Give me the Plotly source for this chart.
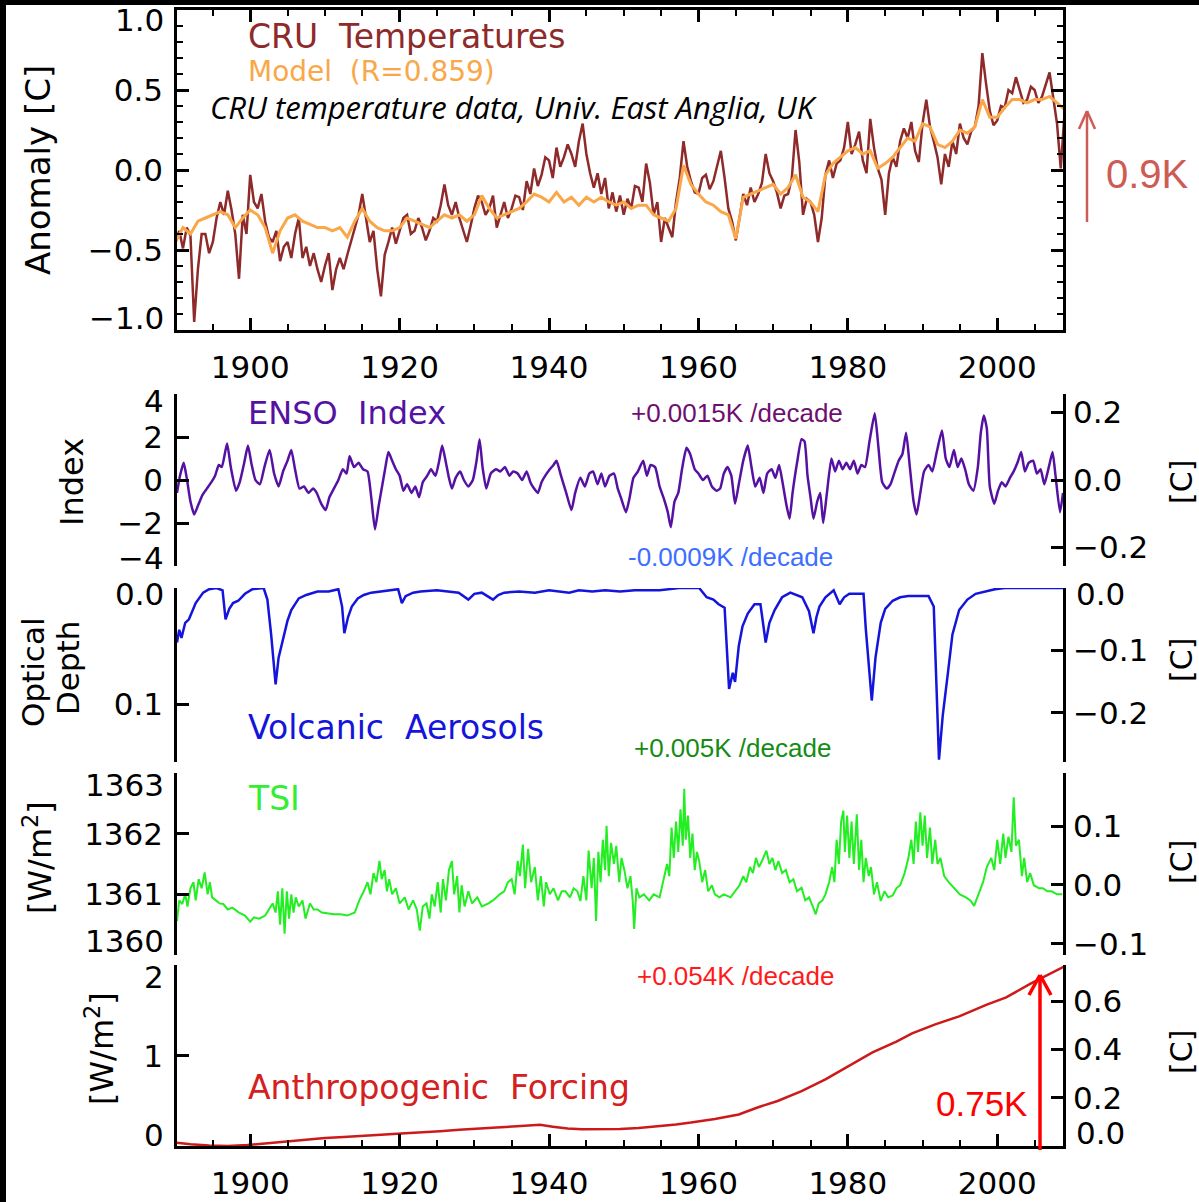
import plotly.graph_objects as go

W, H = 1199, 1202
def px(x): return x / W
def py(y): return 1 - y / H

# ---------------- data ----------------
cru_start = 1890.0
cru_vals = [
 -0.45,-0.38, -0.49,-0.36, -0.41,-0.95, -0.62,-0.40, -0.40,-0.52, -0.45,-0.30, -0.20,-0.28, -0.13,-0.25, -0.40,-0.68, -0.28,-0.40,
 -0.03,-0.20, -0.24,-0.15, -0.32,-0.42, -0.45,-0.38, -0.57,-0.48, -0.45,-0.55, -0.40,-0.30, -0.55,-0.48, -0.60,-0.52, -0.62,-0.70,
 -0.60,-0.52, -0.75,-0.62, -0.55,-0.62, -0.53,-0.45, -0.36,-0.28, -0.15,-0.30, -0.45,-0.38, -0.62,-0.79, -0.53,-0.45, -0.36,-0.46,
 -0.38,-0.30, -0.28,-0.40, -0.38,-0.30, -0.36,-0.44, -0.38,-0.30, -0.32,-0.22, -0.09,-0.22, -0.28,-0.20, -0.30,-0.38, -0.45,-0.35,
 -0.24,-0.16, -0.20,-0.28, -0.24,-0.16, -0.36,-0.28, -0.20,-0.30, -0.24,-0.16, -0.17,-0.25, -0.07,-0.15, 0.01,-0.10, -0.03,0.08,
 0.06,-0.05, 0.14,0.02, 0.08,0.16, 0.10,0.02, 0.18,0.29, 0.10,-0.02, -0.11,-0.02, -0.15,-0.05, -0.24,-0.14, -0.26,-0.16,
 -0.28,-0.18, -0.24,-0.10, -0.11,-0.20, 0.04,-0.08, -0.28,-0.20, -0.45,-0.30, -0.36,-0.42, -0.20,-0.05, 0.18,0.02, -0.07,-0.14,
 -0.15,-0.05, -0.03,-0.12, -0.07,0.02, 0.12,-0.05, -0.24,-0.32, -0.44,-0.30, -0.15,-0.22, -0.11,-0.20, -0.15,-0.08, 0.10,-0.02,
 -0.07,-0.14, -0.24,-0.16, -0.15,-0.05, 0.25,0.05, -0.28,-0.18, -0.20,-0.28, -0.45,-0.30, -0.03,0.06, -0.05,0.04, 0.06,0.14,
 0.30,0.10, 0.16,0.24, 0.06,-0.02, 0.32,0.14, 0.01,-0.06, -0.28,-0.02, 0.08,0.02, 0.18,0.26, 0.20,0.30, 0.12,0.05,
 0.29,0.44, 0.27,0.18, 0.08,-0.09, 0.10,0.02, 0.18,0.10, 0.29,0.20, 0.16,0.24, 0.27,0.40, 0.73,0.54, 0.37,0.28,
 0.31,0.40, 0.39,0.50, 0.48,0.58, 0.50,0.42, 0.44,0.52, 0.50,0.42, 0.46,0.54, 0.61,0.45, 0.29,0.01, 0.35,
]
cru_years = [cru_start + 0.5 * i for i in range(len(cru_vals))]

model_start = 1890
model_vals = [
 -0.45,-0.36,-0.40,-0.32,-0.30,-0.28,-0.26,-0.28,-0.36,-0.30,
 -0.25,-0.28,-0.36,-0.52,-0.38,-0.30,-0.28,-0.32,-0.34,-0.36,
 -0.36,-0.38,-0.36,-0.42,-0.32,-0.24,-0.32,-0.36,-0.38,-0.38,
 -0.36,-0.30,-0.32,-0.34,-0.36,-0.32,-0.28,-0.30,-0.28,-0.32,
 -0.28,-0.16,-0.24,-0.30,-0.28,-0.26,-0.24,-0.20,-0.15,-0.17,
 -0.20,-0.14,-0.20,-0.17,-0.22,-0.17,-0.20,-0.17,-0.20,-0.22,
 -0.20,-0.24,-0.22,-0.22,-0.28,-0.30,-0.32,-0.24,0.03,-0.09,
 -0.15,-0.20,-0.22,-0.26,-0.28,-0.43,-0.17,-0.15,-0.13,-0.11,
 -0.09,-0.15,-0.11,-0.03,-0.17,-0.20,-0.26,-0.03,0.04,0.08,
 0.12,0.14,0.10,0.12,0.01,0.04,0.08,0.14,0.20,0.18,
 0.29,0.27,0.16,0.14,0.18,0.25,0.23,0.27,0.44,0.33,
 0.33,0.39,0.44,0.44,0.42,0.44,0.44,0.46,0.42,0.38,
]
model_years = [model_start + i for i in range(len(model_vals))]

enso_years = [
 1890.2,1890.6,1891.1,1891.5,1892.0,1892.5,1893.0,1893.6,1894.2,1894.8,1895.3,1895.8,1896.2,1896.9,1897.4,1898.1,1898.6,1899.2,1899.7,
 1900.2,1900.7,1901.3,1901.9,1902.6,1903.2,1903.8,1904.4,1905.0,1905.5,1906.0,1906.6,1907.2,1907.8,1908.4,1908.9,1909.5,
 1910.1,1910.6,1911.2,1911.8,1912.4,1912.9,1913.3,1913.9,1914.5,1915.1,1915.7,1916.2,1916.7,1917.2,1917.7,1918.1,1918.5,1919.0,1919.5,
 1920.0,1920.5,1921.0,1921.6,1922.1,1922.6,1923.1,1923.7,1924.2,1924.8,1925.3,1925.7,1926.2,1926.6,1927.0,1927.5,1928.1,1928.6,1929.2,1929.8,
 1930.3,1930.7,1931.1,1931.6,1932.2,1932.9,1933.5,1934.1,1934.7,1935.2,1935.8,1936.4,1937.0,1937.5,1938.0,1938.5,1939.0,1939.5,
 1940.1,1940.6,1941.0,1941.6,1942.3,1943.0,1943.5,1944.2,1944.8,1945.4,1945.9,1946.5,1947.0,1947.5,1948.1,1948.7,1949.2,1949.6,
 1950.3,1950.8,1951.3,1951.9,1952.6,1953.1,1953.6,1954.2,1954.8,1955.4,1955.9,1956.3,1956.8,1957.3,1957.8,1958.4,1958.9,1959.5,
 1960.0,1960.6,1961.2,1961.8,1962.4,1962.9,1963.4,1963.9,1964.4,1964.9,1965.4,1966.0,1966.6,1967.1,1967.6,1968.2,1968.7,1969.2,1969.8,
 1970.3,1970.8,1971.3,1971.8,1972.2,1972.6,1973.2,1973.8,1974.2,1974.6,1975.0,1975.4,1975.9,1976.3,1976.7,1977.2,1977.8,1978.3,1978.8,1979.3,1979.8,
 1980.3,1980.8,1981.3,1981.8,1982.3,1982.9,1983.6,1984.1,1984.6,1985.2,1985.7,1986.2,1986.8,1987.3,1987.8,1988.3,1988.8,1989.2,1989.7,
 1990.2,1990.8,1991.3,1991.9,1992.6,1993.1,1993.6,1994.2,1994.7,1995.2,1995.7,1996.2,1996.8,1997.4,1997.8,1998.2,1998.6,1999.0,1999.6,
 2000.1,2000.6,2001.1,2001.7,2002.2,2002.7,2003.2,2003.7,2004.2,2004.8,2005.3,2005.8,2006.3,2006.9,2007.4,2007.8,2008.4,2008.8,
]
enso_vals = [
 -0.6,0.2,0.8,0.1,-1.0,-1.6,-1.2,-0.7,-0.4,-0.1,0.2,0.7,0.6,1.7,0.6,-0.5,-0.1,0.8,1.6,
 0.7,0.0,-0.2,0.6,1.4,0.3,-0.3,0.4,0.9,1.4,0.5,-0.4,-0.3,-0.6,-0.4,-0.6,-1.1,
 -1.4,-0.8,-0.4,0.0,0.5,0.3,1.1,0.6,0.8,0.5,0.4,-0.8,-2.3,-1.2,-0.2,0.6,1.3,0.9,0.5,
 0.2,-0.5,-0.2,-0.6,-0.3,-0.8,-0.1,0.2,0.5,0.2,0.9,1.6,0.8,0.1,-0.4,0.1,0.4,0.0,-0.3,0.0,
 0.9,1.9,0.6,-0.4,0.3,0.5,0.4,0.6,0.2,0.4,0.3,0.0,0.4,-0.1,-0.4,-0.6,-0.1,0.2,
 0.5,0.7,0.9,0.2,-0.6,-1.4,-0.6,0.1,-0.3,0.3,0.4,-0.2,0.3,-0.3,0.2,0.3,-0.4,-0.8,
 -1.5,-0.8,0.1,0.4,0.9,0.2,0.7,0.6,-0.3,-0.9,-1.5,-2.2,-1.0,-0.6,0.5,1.5,1.2,0.5,
 0.3,0.0,0.2,-0.3,-0.5,-0.4,0.3,0.6,0.2,-1.1,-0.2,0.9,1.6,0.6,-0.3,0.1,-0.6,0.3,0.5,
 0.1,0.7,-0.2,-1.2,-1.8,-0.6,0.8,1.9,1.8,0.2,-0.8,-1.8,-1.0,-0.6,-2.0,-0.6,1.0,0.4,0.9,0.5,0.8,
 0.5,0.9,0.3,0.7,0.6,1.8,3.1,1.5,-0.1,-0.4,-0.2,0.3,0.9,1.2,2.2,0.6,-1.0,-1.6,-0.6,
 0.4,0.7,0.4,1.3,2.3,1.0,0.6,1.4,0.6,1.0,0.5,-0.2,-0.5,0.6,2.2,3.0,2.4,-0.3,-1.1,
 -0.5,-0.1,-0.3,0.1,0.4,0.8,1.3,0.4,0.8,0.9,0.3,0.5,-0.2,0.6,1.3,0.2,-1.5,-0.6,
]

volc_years = [
 1890.2,1890.5,1890.8,1891.3,1891.8,1892.2,1892.7,1893.7,1894.5,1895.5,1896.3,1896.7,1897.2,1897.7,1898.4,1899.3,
 1900.3,1901.8,1902.3,1902.8,1903.4,1903.8,1904.4,1905.0,1905.5,1906.5,1907.5,1909.0,1910.5,1911.8,1912.3,1912.6,
 1913.1,1913.6,1914.4,1915.2,1916.2,1917.2,1918.5,1919.8,1920.3,1920.8,1921.8,1922.8,1925.0,1927.9,1929.2,1930.0,
 1931.0,1932.5,1933.2,1934.0,1936.0,1938.1,1940.0,1942.7,1944.0,1945.8,1947.5,1949.5,1951.5,1954.8,1957.4,1960.1,
 1961.1,1962.0,1962.7,1963.5,1964.1,1964.6,1964.9,1965.4,1965.9,1966.6,1967.5,1968.3,1969.0,1969.5,1970.2,1971.2,
 1972.3,1973.9,1974.8,1975.4,1975.8,1976.2,1977.0,1978.1,1978.9,1979.5,1980.2,1982.1,1982.4,1983.2,1983.7,1984.4,
 1985.0,1986.0,1987.0,1988.1,1990.8,1991.5,1992.2,1992.7,1993.4,1994.0,1994.9,1996.0,1997.1,1999.7,2001.0,2009.0,
]
volc_vals = [
 0.047,0.036,0.043,0.030,0.027,0.020,0.013,0.004,0.001,0.000,0.002,0.027,0.018,0.013,0.011,0.005,
 0.001,0.000,0.010,0.040,0.083,0.060,0.044,0.028,0.019,0.009,0.006,0.003,0.003,0.001,0.016,0.039,
 0.025,0.016,0.009,0.006,0.004,0.003,0.002,0.001,0.013,0.007,0.004,0.003,0.002,0.004,0.010,0.005,
 0.004,0.010,0.006,0.004,0.003,0.004,0.002,0.004,0.002,0.003,0.002,0.003,0.002,0.002,0.000,0.000,
 0.008,0.010,0.014,0.017,0.087,0.073,0.081,0.050,0.033,0.022,0.014,0.014,0.047,0.030,0.019,0.008,
 0.004,0.008,0.020,0.039,0.025,0.016,0.008,0.002,0.014,0.008,0.005,0.005,0.035,0.097,0.060,0.030,
 0.018,0.011,0.008,0.007,0.007,0.016,0.148,0.110,0.073,0.040,0.019,0.010,0.005,0.001,0.000,0.000,
]

tsi_years = [
 1890.2,1890.5,1890.9,1891.3,1891.6,1892.0,1892.4,1892.7,1893.1,1893.5,1893.9,1894.3,1894.6,1894.9,1895.4,1895.9,1896.4,1897.0,1897.6,1898.5,1899.3,
 1900.0,1900.5,1901.2,1902.0,1902.5,1903.0,1903.4,1903.7,1904.0,1904.3,1904.6,1904.9,1905.2,1905.5,1905.8,1906.1,1906.5,1907.0,1907.4,1908.0,1908.5,1909.0,1909.6,
 1910.4,1911.2,1912.1,1913.0,1914.0,1914.6,1915.2,1915.7,1916.1,1916.5,1916.9,1917.3,1917.6,1918.0,1918.3,1918.6,1919.0,1919.5,
 1920.0,1920.7,1921.2,1921.8,1922.3,1922.7,1923.1,1923.6,1924.0,1924.3,1924.7,1925.1,1925.5,1925.8,1926.2,1926.6,1927.0,1927.3,1927.7,1928.0,1928.3,1928.7,1929.2,1929.7,
 1930.4,1931.0,1931.9,1932.5,1933.4,1934.0,1934.5,1935.0,1935.4,1935.8,1936.1,1936.5,1936.8,1937.2,1937.6,1938.1,1938.5,1938.9,1939.3,1939.6,
 1940.1,1940.6,1941.2,1941.7,1942.2,1942.8,1943.3,1943.8,1944.2,1944.6,1945.0,1945.3,1945.7,1946.0,1946.3,1946.6,1946.9,1947.2,1947.5,1947.7,1948.0,1948.3,1948.7,1949.0,1949.4,1949.7,
 1950.1,1950.5,1950.9,1951.2,1951.4,1951.7,1952.1,1952.7,1953.4,1954.0,1954.8,1955.3,1955.8,1956.1,1956.4,1956.7,1957.0,1957.3,1957.6,1957.9,1958.1,1958.3,1958.6,1958.9,1959.2,1959.5,1959.8,
 1960.1,1960.5,1960.9,1961.3,1961.8,1962.2,1962.8,1963.4,1964.3,1964.9,1965.5,1966.0,1966.4,1966.9,1967.3,1967.7,1968.1,1968.5,1969.1,1969.5,1969.9,
 1970.3,1970.7,1971.2,1971.7,1972.2,1972.7,1973.2,1973.8,1974.3,1974.8,1975.3,1975.7,1976.1,1976.6,1977.0,1977.5,1977.9,1978.2,1978.5,1978.8,1979.1,1979.4,1979.6,1979.9,
 1980.2,1980.5,1980.8,1981.2,1981.5,1981.8,1982.1,1982.4,1982.8,1983.1,1983.5,1983.9,1984.4,1984.9,1985.4,1986.0,1986.5,1987.0,1987.6,1988.1,1988.5,1988.8,1989.1,1989.4,1989.7,
 1990.0,1990.3,1990.6,1991.0,1991.3,1991.7,1992.0,1992.4,1992.9,1993.5,1994.2,1995.0,1995.8,1996.4,1996.9,1997.5,1998.1,1998.6,1999.2,1999.6,
 2000.0,2000.4,2000.8,2001.1,2001.5,2001.9,2002.2,2002.5,2002.9,2003.3,2003.6,2004.0,2004.4,2004.9,2005.6,2006.1,2006.7,2007.3,2008.0,2008.7,
]
tsi_vals = [
 1360.56,1360.90,1360.84,1361.00,1360.80,1361.10,1361.20,1360.90,1361.25,1361.10,1361.36,1361.00,1361.20,1360.95,1360.90,1360.85,1360.84,1360.75,1360.78,1360.70,1360.65,
 1360.55,1360.62,1360.60,1360.65,1360.75,1360.85,1360.70,1361.05,1360.50,1361.10,1360.35,1361.05,1360.60,1361.00,1360.70,1360.95,1360.80,1360.90,1360.60,1360.85,1360.75,1360.75,1360.70,
 1360.68,1360.67,1360.67,1360.65,1360.70,1360.90,1361.05,1361.20,1361.00,1361.35,1361.20,1361.55,1361.25,1361.40,1361.05,1361.25,1361.00,1361.10,
 1360.85,1360.95,1360.75,1360.90,1360.75,1360.40,1360.80,1360.85,1360.60,1361.00,1360.80,1361.20,1360.70,1361.25,1360.90,1361.40,1361.55,1361.00,1361.30,1360.70,1361.15,1360.80,1361.05,1360.85,
 1360.95,1360.80,1360.85,1360.90,1361.00,1361.05,1361.20,1361.25,1361.00,1361.55,1361.30,1361.82,1361.10,1361.75,1361.20,1361.45,1360.90,1361.30,1360.80,1361.20,
 1361.00,1361.10,1360.90,1361.05,1361.05,1360.95,1361.10,1361.05,1360.89,1361.30,1360.90,1361.72,1361.10,1361.60,1360.56,1361.70,1361.20,1361.90,1361.40,1362.13,1361.30,1361.85,1361.50,1361.80,1361.20,1361.60,
 1361.39,1361.10,1361.30,1360.90,1360.43,1361.10,1360.95,1361.00,1360.90,1361.00,1360.95,1361.20,1361.50,1361.30,1362.10,1361.60,1362.20,1361.70,1362.40,1361.80,1362.74,1361.90,1362.30,1361.60,1362.00,1361.40,1361.70,
 1361.55,1361.20,1361.40,1361.05,1361.15,1361.00,1360.95,1361.00,1360.95,1361.05,1361.15,1361.30,1361.20,1361.45,1361.35,1361.60,1361.45,1361.55,1361.72,1361.50,1361.60,
 1361.40,1361.55,1361.35,1361.40,1361.20,1361.25,1361.05,1361.11,1360.90,1360.95,1360.80,1360.67,1360.85,1360.90,1361.00,1361.20,1361.45,1361.20,1361.90,1361.50,1362.20,1362.38,1361.70,1362.30,
 1361.60,1362.20,1361.50,1362.32,1361.40,1361.90,1361.20,1361.60,1361.30,1361.45,1361.00,1361.20,1360.89,1361.05,1360.95,1360.98,1361.10,1361.15,1361.35,1361.60,1361.90,1361.50,1362.20,1361.70,1362.35,
 1361.80,1362.30,1361.60,1362.10,1361.50,1361.90,1361.50,1361.60,1361.30,1361.20,1361.10,1361.00,1360.95,1360.90,1360.81,1361.00,1361.20,1361.45,1361.60,1361.40,
 1361.90,1361.50,1362.00,1361.60,1361.95,1361.70,1362.60,1361.80,1361.90,1361.30,1361.60,1361.20,1361.35,1361.15,1361.10,1361.10,1361.05,1361.05,1361.00,1361.00,
]

anthro_years = [
 1890.2,1892.0,1894.5,1897.0,1899.6,1902.0,1904.8,1907.5,1910.0,1912.5,1915.1,1917.5,1920.2,1922.8,1925.4,1928.0,1930.5,1933.0,1935.7,1938.8,
 1940.5,1942.5,1944.4,1947.0,1949.5,1952.0,1954.8,1957.0,1959.0,1962.2,1965.4,1968.0,1970.6,1973.8,1977.0,1980.2,1983.3,1986.5,1988.6,
 1991.7,1994.9,1998.6,2001.2,2004.4,2007.0,2008.9,
]
anthro_vals = [
 0.037,0.020,0.005,0.000,0.010,0.030,0.055,0.075,0.090,0.100,0.110,0.125,0.140,0.150,0.165,0.180,0.190,0.205,0.220,0.235,
 0.215,0.195,0.185,0.185,0.190,0.200,0.220,0.240,0.260,0.300,0.350,0.430,0.500,0.610,0.740,0.890,1.040,1.160,1.250,
 1.350,1.440,1.570,1.650,1.800,1.910,1.990,
]

# tick values / labels (end labels are drawn separately, nudged inward as in the original)
temp_ticks = [-1.0, -0.5, 0.0, 0.5, 1.0]
temp_text = ["", "\u22120.5", "0.0", "0.5", ""]
enso_ticks = [-4, -2, 0, 2, 4]
enso_text = ["", "\u22122", "0", "2", ""]
enso_c_ticks = [-0.2, 0.0, 0.2]
enso_c_text = ["\u22120.2", "0.0", "0.2"]
volc_ticks = [0.0, 0.1]
volc_text = ["", "0.1"]
volc_c_ticks = [-0.2, -0.1, 0.0]
volc_c_text = ["\u22120.2", "\u22120.1", ""]
tsi_ticks = [1360, 1361, 1362, 1363]
tsi_text = ["", "1361", "1362", ""]
tsi_c_ticks = [-0.1, 0.0, 0.1]
tsi_c_text = ["\u22120.1", "0.0", "0.1"]
anth_ticks = [0, 1, 2]
anth_text = ["", "1", ""]
anth_c_ticks = [0.0, 0.2, 0.4, 0.6]
anth_c_text = ["", "0.2", "0.4", "0.6"]

# ---------------- figure ----------------
FONT = "DejaVu Sans"
TF = dict(family=FONT, size=31, color="black")
XR = [1890.2, 2008.8]
XD = [px(177), px(1063)]

fig = go.Figure()
fig.add_trace(go.Scatter(x=cru_years, y=cru_vals, mode="lines", line=dict(color="#8e2a2a", width=2.5), xaxis="x", yaxis="y"))
fig.add_trace(go.Scatter(x=model_years, y=model_vals, mode="lines", line=dict(color="#f9a748", width=3), xaxis="x", yaxis="y"))
fig.add_trace(go.Scatter(x=enso_years, y=enso_vals, mode="lines", line=dict(color="#5512a2", width=2.5, shape="spline", smoothing=0.5), xaxis="x2", yaxis="y2"))
fig.add_trace(go.Scatter(x=volc_years, y=volc_vals, mode="lines", line=dict(color="#1414dc", width=2.5), xaxis="x3", yaxis="y3"))
fig.add_trace(go.Scatter(x=tsi_years, y=tsi_vals, mode="lines", line=dict(color="#22ee22", width=2), xaxis="x4", yaxis="y4"))
fig.add_trace(go.Scatter(x=anthro_years, y=anthro_vals, mode="lines", line=dict(color="#cc1a1a", width=2.5), xaxis="x5", yaxis="y5"))
for xa, ya in (("x2", "y6"), ("x3", "y7"), ("x4", "y8"), ("x5", "y9")):
    fig.add_trace(go.Scatter(x=[None], y=[None], xaxis=xa, yaxis=ya, hoverinfo="skip"))

ax_common = dict(showline=True, linecolor="black", linewidth=2.5, ticks="inside", tickcolor="black",
                 tickwidth=2.5, ticklen=12, showgrid=False, zeroline=False, tickfont=TF, automargin=False)
xminor = dict(ticks="inside", tickmode="linear", dtick=5, tick0=1900, ticklen=6, tickwidth=2, tickcolor="black")

def yleft(dom, rng, tv, tt, anchor, **kw):
    return dict(**ax_common, domain=[py(dom[1]), py(dom[0])], range=rng, anchor=anchor,
                tickmode="array", tickvals=tv, ticktext=tt, ticklabelstandoff=5, **kw)

def yright(over, anchor, rng, tv, tt):
    return dict(**ax_common, overlaying=over, side="right", anchor=anchor, range=rng,
                tickmode="array", tickvals=tv, ticktext=tt, ticklabelstandoff=1)

fig.update_layout(
    width=W, height=H, margin=dict(l=0, r=0, t=0, b=0, pad=0),
    paper_bgcolor="white", plot_bgcolor="white", showlegend=False,
    xaxis=dict(**ax_common, domain=XD, range=XR, anchor="y", mirror="ticks", tickmode="linear", tick0=1900, dtick=20,
               minor=xminor, ticklabelstandoff=8),
    yaxis=yleft((10, 330), [-1, 1], temp_ticks, temp_text, "x", mirror="ticks",
                minor=dict(ticks="inside", tickmode="linear", tick0=0, dtick=0.1, ticklen=6, tickwidth=2, tickcolor="black")),
    xaxis2=dict(domain=XD, range=XR, matches="x", visible=False, anchor="y2"),
    xaxis3=dict(domain=XD, range=XR, matches="x", visible=False, anchor="y3"),
    xaxis4=dict(domain=XD, range=XR, matches="x", visible=False, anchor="y4"),
    xaxis5=dict(**ax_common, domain=XD, range=XR, matches="x", anchor="y5", tickmode="linear", tick0=1900, dtick=20,
                minor=xminor, ticklabelstandoff=8),
    yaxis2=yleft((394, 566), [-4, 4], enso_ticks, enso_text, "x2"),
    yaxis3=yleft((588, 762), [0.15, 0], volc_ticks, volc_text, "x3"),
    yaxis4=yleft((773, 955), [1360, 1363], tsi_ticks, tsi_text, "x4"),
    yaxis5=yleft((965, 1146), [0, 2.01], anth_ticks, anth_text, "x5"),
    yaxis6=yright("y2", "x2", [-0.255, 0.255], enso_c_ticks, enso_c_text),
    yaxis7=yright("y3", "x3", [-0.279, 0], volc_c_ticks, volc_c_text),
    yaxis8=yright("y4", "x4", [-0.119, 0.19], tsi_c_ticks, tsi_c_text),
    yaxis9=yright("y5", "x5", [0, 0.75], anth_c_ticks, anth_c_text),
)

def txt(text, x, y, size, color, family=FONT, xanchor="left", italic=False, angle=0):
    fig.add_annotation(text=text, x=px(x), y=py(y), xref="paper", yref="paper", showarrow=False,
                       xanchor=xanchor, yanchor="middle", textangle=angle,
                       font=dict(family=family, size=size, color=color, style="italic" if italic else "normal"))

ARIAL = "Liberation Sans, Arial, sans-serif"
txt("CRU  Temperatures", 246, 37, 33, "#8e2a2a")
txt("Model  (R=0.859)", 246, 72, 28, "#f9a748")
txt("CRU temperature data, Univ. East Anglia, UK", 208, 107, 31, "black", family="Open Sans", italic=True)
txt("0.9K", 1104, 174, 40, "#cd5c55", family=ARIAL)
txt("ENSO  Index", 246, 413, 32, "#5512a2")
txt("+0.0015K /decade", 629, 413, 26, "#6e0f70", family=ARIAL)
txt("-0.0009K /decade", 626, 557, 26, "#3c6eff", family=ARIAL)
txt("Volcanic  Aerosols", 246, 727, 33, "#1414dc")
txt("+0.005K /decade", 632, 748, 26, "#148c14", family=ARIAL)
txt("TSI", 246, 798, 33, "#33ee33")
txt("+0.054K /decade", 635, 976, 26, "#ff1a1a", family=ARIAL)
txt("Anthropogenic  Forcing", 246, 1087, 33, "#d42020")
txt("0.75K", 1029, 1103, 35, "#ff0000", family=ARIAL, xanchor="right")

# end-of-axis tick labels (nudged inward)
for label, yy in (("1.0", 20), ("\u22121.0", 318), ("4", 401), ("\u22124", 558), ("0.0", 594),
                  ("1363", 785), ("1360", 941), ("2", 977), ("0", 1135)):
    txt(label, 166, yy, 31, "black", xanchor="right")
for label, yy in (("0.0", 594), ("0.0", 1133)):
    txt(label, 1074, yy, 31, "black")

# axis titles
txt("Anomaly [C]", 38, 170, 34, "black", xanchor="center", angle=-90)
txt("Index", 72, 482, 32, "black", xanchor="center", angle=-90)
txt("Optical", 33, 672, 31, "black", xanchor="center", angle=-90)
txt("Depth", 68, 668, 31, "black", xanchor="center", angle=-90)
txt("[W/m<sup>2</sup>]", 38, 858, 32, "black", xanchor="center", angle=-90)
txt("[W/m<sup>2</sup>]", 100, 1048, 32, "black", xanchor="center", angle=-90)
for yy in (482, 660, 862, 1052):
    txt("[C]", 1181, yy, 30, "black", xanchor="center", angle=-90)

def seg(x0, y0, x1, y1, color, width):
    fig.add_shape(type="line", xref="paper", yref="paper", x0=px(x0), y0=py(y0), x1=px(x1), y1=py(y1),
                  line=dict(color=color, width=width))

seg(1087, 222, 1087, 111, "#cd5c55", 2.5)
seg(1087, 111, 1079, 129, "#cd5c55", 2.5)
seg(1087, 111, 1095, 129, "#cd5c55", 2.5)
seg(1040, 1150, 1040, 975, "#ff0000", 3.5)
seg(1040, 975, 1029, 995, "#ff0000", 3.5)
seg(1040, 975, 1051, 995, "#ff0000", 3.5)

fig.add_shape(type="rect", xref="paper", yref="paper", x0=0, x1=px(6), y0=0, y1=1,
              fillcolor="black", line=dict(width=0))
fig.add_shape(type="rect", xref="paper", yref="paper", x0=0, x1=1, y0=py(5), y1=1,
              fillcolor="black", line=dict(width=0))

fig.write_html("out.html", config={"displayModeBar": False},
               post_script="document.body.style.margin='0px';")
